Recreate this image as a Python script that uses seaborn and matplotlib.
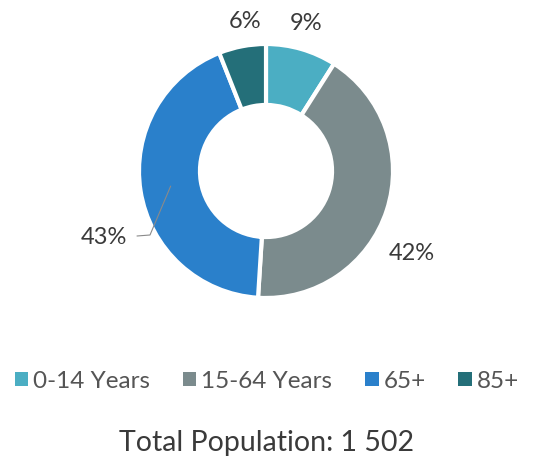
import matplotlib
matplotlib.use("Agg")
import matplotlib.pyplot as plt
import numpy as np
import seaborn as sns
from matplotlib.patches import Patch

sns.set_theme(style="white")
plt.rcParams['font.family'] = ['Lato', 'DejaVu Sans']

age_groups = ["0-14 Years", "15-64 Years", "65+", "85+"]
shares = [9, 42, 43, 6]
colors = ["#4BAEC3", "#7B8B8D", "#2A80CB", "#246F79"]
total_label = "Total Population: 1 502"

text_color = "#3a3a3a"

fig = plt.figure(figsize=(5.34, 4.62), dpi=100)
# axes in pixel-like units, donut centre at (266, 171) from top-left
ax = fig.add_axes([0, 0, 1, 1])
R = 127
wedges, _ = ax.pie(shares, colors=colors, startangle=90, counterclock=False,
                   radius=R, center=(0, 0),
                   wedgeprops=dict(width=0.48 * R, edgecolor="white", linewidth=3))
ax.set_xlim(-266, 534 - 266)
ax.set_ylim(-(462 - 171), 171)
ax.set_aspect("equal")
ax.axis("off")

# percent labels (Excel-like placement)
label_pos = {0: (40, 147), 1: (146, -83), 3: (-21, 150)}
for i, (x, y) in label_pos.items():
    ax.text(x, y, f"{shares[i]}%", ha="center", va="center", fontsize=17,
            color=text_color)

# 43% with a leader line
w = wedges[2]
mid = np.deg2rad((w.theta1 + w.theta2) / 2)
r_mid = R - 0.24 * R
p0 = (r_mid * np.cos(mid), r_mid * np.sin(mid))
ax.plot([p0[0], -116, -129], [p0[1], -64, -65], color="#8a8a8a", lw=0.8)
ax.text(-139, -67, f"{shares[2]}%", ha="right", va="center", fontsize=17,
        color=text_color)

handles = [Patch(facecolor=c, edgecolor="none", label=l) for c, l in zip(colors, age_groups)]
leg = fig.legend(handles=handles, loc="center", bbox_to_anchor=(0.5, 1 - 381 / 462),
                 ncol=4, frameon=False, handlelength=0.55, handleheight=0.55,
                 handletextpad=0.2, columnspacing=1.35, labelcolor="#555555",
                 prop=dict(size=17.5))

fig.text(0.5, 1 - 443 / 462, total_label, ha="center", va="center", fontsize=20.5,
         color=text_color)

fig.savefig("out.png", dpi=100, facecolor="white")
